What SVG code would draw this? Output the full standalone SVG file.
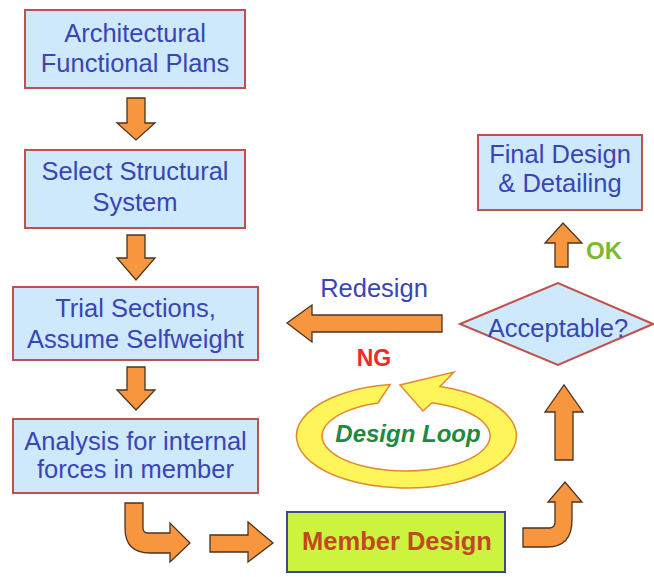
<svg xmlns="http://www.w3.org/2000/svg" width="654" height="577" viewBox="0 0 654 577">
<style>
.box{fill:#cde9fb;stroke:#c0504d;stroke-width:2}
.t{font-family:"Liberation Sans",Arial,sans-serif;font-size:25.5px;fill:#3b44b6;text-anchor:middle}
.arr{fill:#f7963f;stroke:#4a3520;stroke-width:1.3;stroke-linejoin:miter}
.b{font-family:"Liberation Sans",Arial,sans-serif;font-weight:bold;text-anchor:middle}
</style>
<rect width="654" height="577" fill="#ffffff"/>
<g id="n1"><rect class="box" x="25" y="10" width="220" height="78"/><text class="t" x="135" y="42">Architectural</text><text class="t" x="135" y="72">Functional Plans</text></g>
<g id="n2"><rect class="box" x="25" y="150" width="220" height="78"/><text class="t" x="135" y="180">Select Structural</text><text class="t" x="135" y="211">System</text></g>
<g id="n3"><rect class="box" x="13" y="287" width="245" height="73"/><text class="t" x="135.5" y="317">Trial Sections,</text><text class="t" x="135.5" y="348">Assume Selfweight</text></g>
<g id="n4"><rect class="box" x="13" y="419" width="245" height="74"/><text class="t" x="135.5" y="450">Analysis for internal</text><text class="t" x="135.5" y="478">forces in member</text></g>
<g id="n5"><rect x="287" y="512" width="218" height="60" fill="#ccf43f" stroke="#3d4a8a" stroke-width="2"/><text class="b" x="397" y="550" font-size="25.5" fill="#c04a1e">Member Design</text></g>
<g id="n6"><polygon points="460,324 558,283 653,324 558,365" fill="#cde9fb" stroke="#c0504d" stroke-width="2"/><text class="t" x="558" y="337">Acceptable?</text></g>
<g id="n7"><rect class="box" x="478" y="135" width="164" height="75"/><text class="t" x="560" y="163">Final Design</text><text class="t" x="560" y="192">&amp; Detailing</text></g>
<g id="loop">
<path d="M390,384.6 A110,52 0 1 0 440,386.5 L454,372 L400,385 L423,411 L432,402.7 A84,35 0 1 1 378,403 Z" fill="#fdf55a" stroke="#e08a30" stroke-width="1.5" stroke-linejoin="miter"/>
<text class="b" x="408" y="442" font-size="24" font-style="italic" fill="#1f8a3e">Design Loop</text>
</g>
<g id="connectors">
<polygon class="arr" points="127,98 145,98 145,123 155,123 136,140 117,123 127,123"/>
<polygon class="arr" points="127,235 145,235 145,258 155,258 136,280 117,258 127,258"/>
<polygon class="arr" points="127,367 145,367 145,390 155,390 136,410 117,390 127,390"/>
<path class="arr" d="M125,503 L143,503 L143,528 Q143,533 148,533 L170,533 L170,523 L190,543 L170,562 L170,553 L150,553 Q125,553 125,528 Z"/>
<polygon class="arr" points="210,535 248,535 248,522 273,543 248,562 248,552 210,552"/>
<path class="arr" d="M523,528 L549,528 Q555,528 555,522 L555,502 L548,502 L565,482 L582,502 L572,502 L572,520 Q572,547 547,547 L523,547 Z"/>
<polygon class="arr" points="555,460 573,460 573,412 583,412 564,385 545,412 555,412"/>
<polygon class="arr" points="442,315 442,332 312,332 312,342 287,323 312,305 312,315"/>
<polygon class="arr" points="555,267 568,267 568,243 582,243 563,223 545,243 555,243"/>
<text class="t" x="374" y="297">Redesign</text>
<text class="b" x="374" y="366" font-size="23" fill="#f0282a">NG</text>
<text class="b" x="604" y="259" font-size="24" fill="#7cb832">OK</text>
</g>
</svg>
